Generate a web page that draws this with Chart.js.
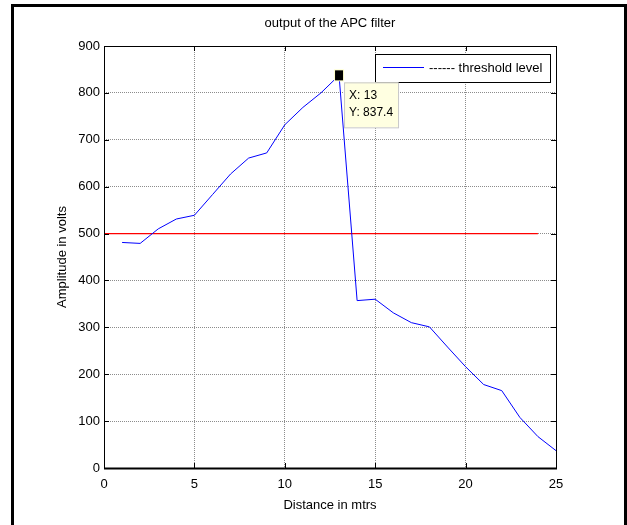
<!DOCTYPE html>
<html>
<head>
<meta charset="utf-8">
<script src="https://cdn.jsdelivr.net/npm/chart.js@4"></script>
<style>
  body { margin: 0; background: #fff; overflow: hidden; }
  #wrap { position: relative; width: 627px; height: 525px; }
  #chart { position: absolute; left: 0; top: 0; }
  #frame {
    position: absolute; left: 11px; top: 4px; width: 610px; height: 560px;
    border: 3px solid #000; pointer-events: none;
  }
</style>
</head>
<body>
<div id="wrap">
  <canvas id="chart" width="627" height="525"></canvas>
  <div id="frame"></div>
</div>
<script>
// ---- data ----
const distance = [1, 2, 3, 4, 5, 6, 7, 8, 9, 10, 11, 12, 13, 14, 15, 16, 17, 18, 19, 20, 21, 22, 23, 24, 25];
const amplitude = [481, 479, 510, 531, 539, 583, 627, 661, 672, 732, 769, 800, 837.4, 357, 360, 331, 310, 301, 258, 216, 178, 165, 108, 67, 37];
const thresholdX = [0, 24];
const thresholdY = [500, 500];
const xRange = [0, 25];
const yRange = [0, 900];
const tipX = 13;
const tipY = 837.4;

const FONT = "'Liberation Sans', Arial, sans-serif";

const matlabAxes = {
  id: 'matlabAxes',
  afterDraw(chart) {
    const { ctx, chartArea: a, scales: { x, y } } = chart;
    ctx.save();

    // box + inward ticks
    ctx.strokeStyle = '#000';
    ctx.lineWidth = 1;
    ctx.strokeRect(a.left + 0.5, a.top + 0.5, a.right - a.left, a.bottom - a.top);
    ctx.beginPath();
    x.ticks.forEach(t => {
      const px = Math.round(x.getPixelForValue(t.value)) + 0.5;
      ctx.moveTo(px, a.bottom); ctx.lineTo(px, a.bottom - 5);
      ctx.moveTo(px, a.top); ctx.lineTo(px, a.top + 5);
    });
    y.ticks.forEach(t => {
      const py = Math.round(y.getPixelForValue(t.value)) + 0.5;
      ctx.moveTo(a.left, py); ctx.lineTo(a.left + 5, py);
      ctx.moveTo(a.right, py); ctx.lineTo(a.right - 5, py);
    });
    ctx.stroke();
    // heavier x axis line like the reference
    ctx.lineWidth = 2;
    ctx.beginPath();
    ctx.moveTo(a.left, a.bottom + 0.5); ctx.lineTo(a.right + 1, a.bottom + 0.5);
    ctx.stroke();

    // title
    ctx.fillStyle = '#000';
    ctx.font = '13px ' + FONT;
    ctx.textAlign = 'center';
    ctx.textBaseline = 'middle';
    ctx.fillText('output of the APC filter', (a.left + a.right) / 2, 23);

    // legend
    const lx = a.right - 181, ly = a.top + 8, lw = 175, lh = 28;
    ctx.fillStyle = '#fff';
    ctx.fillRect(lx, ly, lw, lh);
    ctx.lineWidth = 1;
    ctx.strokeStyle = '#000';
    ctx.strokeRect(lx + 0.5, ly + 0.5, lw, lh);
    ctx.strokeStyle = '#0000ff';
    ctx.beginPath();
    ctx.moveTo(lx + 8, ly + 13.5); ctx.lineTo(lx + 49, ly + 13.5);
    ctx.stroke();
    ctx.fillStyle = '#000';
    ctx.textAlign = 'left';
    ctx.fillText('------ threshold level', lx + 54, ly + 14);

    // data tip
    const mx = x.getPixelForValue(tipX), my = y.getPixelForValue(tipY);
    ctx.fillStyle = '#ffffcc';
    ctx.fillRect(mx - 5, my - 6, 10, 12);
    ctx.fillStyle = '#000';
    ctx.fillRect(mx - 4, my - 5, 8, 10);
    const bx = mx + 5, by = my + 7;
    ctx.fillStyle = '#ffffe1';
    ctx.fillRect(bx, by, 54, 45);
    ctx.strokeStyle = '#c8c8c8';
    ctx.strokeRect(bx + 0.5, by + 0.5, 54, 45);
    ctx.fillStyle = '#000';
    ctx.font = '12px ' + FONT;
    ctx.fillText('X: ' + tipX, bx + 5, by + 13);
    ctx.fillText('Y: ' + tipY, bx + 5, by + 30);

    ctx.restore();
  }
};

new Chart(document.getElementById('chart'), {
  type: 'line',
  data: {
    datasets: [
      {
        label: 'output',
        data: distance.map((d, i) => ({ x: d, y: amplitude[i] })),
        borderColor: '#0000ff',
        borderWidth: 1,
        pointRadius: 0,
        tension: 0
      },
      {
        label: 'threshold',
        data: thresholdX.map((d, i) => ({ x: d, y: thresholdY[i] })),
        borderColor: '#ff0000',
        borderWidth: 1.3,
        pointRadius: 0
      }
    ]
  },
  options: {
    responsive: false,
    animation: false,
    devicePixelRatio: 1,
    layout: { padding: { top: 46, right: 71, left: 0, bottom: 0 } },
    plugins: { legend: { display: false }, tooltip: { enabled: false } },
    scales: {
      x: {
        type: 'linear',
        min: xRange[0], max: xRange[1],
        afterFit: s => { s.height = 57; },
        ticks: { stepSize: 5, color: '#000', font: { family: FONT, size: 13 }, padding: 9, maxRotation: 0 },
        grid: { color: '#8c8c8c', drawTicks: false },
        border: { display: false, dash: [1, 1] },
        title: { display: true, text: 'Distance in mtrs', color: '#000', font: { family: FONT, size: 13 }, padding: { top: 0, bottom: 12 } }
      },
      y: {
        min: yRange[0], max: yRange[1],
        afterFit: s => { s.width = 104; },
        ticks: { stepSize: 100, color: '#000', font: { family: FONT, size: 13 }, padding: 4 },
        grid: { color: '#8c8c8c', drawTicks: false },
        border: { display: false, dash: [1, 1] },
        title: { display: true, text: 'Amplitude in volts', color: '#000', font: { family: FONT, size: 13 }, padding: { top: 55, bottom: 0 } }
      }
    }
  },
  plugins: [matlabAxes]
});
</script>
</body>
</html>
